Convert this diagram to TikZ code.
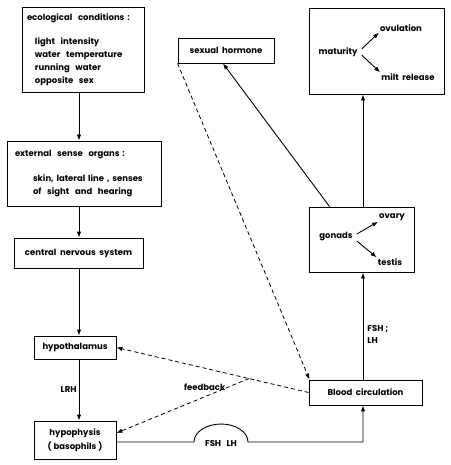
\documentclass[tikz,border=0pt]{standalone}
\usepackage{fontspec}
\setmainfont{Poppins}
\usetikzlibrary{arrows.meta,calc}

\begin{document}
\begin{tikzpicture}[x=1pt,y=-1pt,>={Latex[length=6pt,width=4.5pt]},
font=\fontsize{8.5}{13}\selectfont\bfseries,
box/.style={draw,line width=0.9pt,inner sep=0pt},
inner/.style={inner sep=1pt},
flow/.style={->,line width=0.9pt},
fb/.style={->,line width=0.8pt,dash pattern=on 4pt off 3pt},
arrownote/.style={font=\fontsize{8.5}{13}\selectfont\bfseries}]

\useasboundingbox (0,0) rectangle (450,465);

% left column
\node (eco) at (83,49.5) [box,minimum width=122,minimum height=85,text width=112,align=left]
  {ecological\ \ conditions :\\[11pt]
   \hspace*{8pt}light\ \ intensity\\
   \hspace*{8pt}water\ \ temperature\\
   \hspace*{8pt}running\ \ water\\
   \hspace*{8pt}opposite\ \ sex};
\node (sense) at (84,173.5) [box,minimum width=154,minimum height=65,text width=138,align=left]
  {external\ \ sense\ \ organs :\\[12pt]
   \hspace*{18pt}skin, lateral line , senses\\
   \hspace*{18pt}of\ \ sight\ \ and\ \ hearing};
\node (cns) at (78.5,253) [box,minimum width=129,minimum height=30] {central\ \ nervous\ \ system};
\node (hypo) at (75,347.5) [box,minimum width=82,minimum height=23] {hypothalamus};
\node (pit) at (75,440) [box,minimum width=82,minimum height=38,align=center] {hypophysis\\[1pt]( basophils )};

% right column
\node (sex) at (226,50.5) [box,minimum width=96,minimum height=25] {sexual\ \ hormone};
\node (mat) at (376.5,51) [box,minimum width=135,minimum height=86] {};
\node (gon) at (361.5,239.5) [box,minimum width=105,minimum height=65] {};
\node (blood) at (365.5,392.5) [box,minimum width=113,minimum height=25] {Blood\ \ circulation};

\node (mtext) at (338,52) [inner] {maturity};
\node (ovul) at (401,28) [inner] {ovulation};
\node (milt) at (408,77) [inner] {milt\ \ release};
\node (gtext) at (336,237) [inner] {gonads};
\node (ovary) at (392,217) [inner] {ovary};
\node (testis) at (390,262) [inner] {testis};

\draw [flow] ([shift={(3pt,3pt)}]mtext.east) -- (ovul.south west);
\draw [flow] ([shift={(3pt,-3pt)}]mtext.east) -- (milt.north west);
\draw [flow] ([shift={(3pt,3pt)}]gtext.east) -- (ovary.south west);
\draw [flow] ([shift={(3pt,-4pt)}]gtext.east) -- (testis.north west);

% main chain
\draw [flow] (eco.south -| 79,0) -- (sense.north -| 79,0);
\draw [flow] (sense.south -| 79,0) -- (cns.north -| 79,0);
\draw [flow] (cns.south -| 79,0) -- (hypo.north -| 79,0);
\draw [flow] (hypo.south -| 79,0) to node [arrownote,left,inner sep=2pt] {LRH} (pit.north -| 79,0);

\coordinate (bumpL) at (194,442);
\draw [flow] (pit.east |- bumpL) -- (bumpL) arc[start angle=180,end angle=360,x radius=27,y radius=18]
  -- (363,442) -- (blood.south -| 363,0);
\node (fshlh) at (221,443) [arrownote] {FSH\ \ \ LH};

\draw [flow] (blood.north -| 363,0) to node [arrownote,pos=0.42,right,align=left,inner sep=4pt] {FSH ;\\[-1pt]LH} (gon.south -| 363,0);
\draw [flow] (gon.north -| 363,0) -- (mat.south -| 363,0);
\draw [flow] ([xshift=21pt]gon.north west) -- ([xshift=-3pt]sex.south);

% feedback
\coordinate (fork) at ($(blood.west)!0.31!(hypo.east)$);
\draw [fb] (blood.west) -- (hypo.east);
\draw [fb] (fork) to node [arrownote,pos=0.16,left,inner sep=2pt] {feedback} ([yshift=7pt]pit.east);
\draw [fb] (sex.south west) -- ([xshift=1pt]blood.north west);

\end{tikzpicture}
\end{document}
